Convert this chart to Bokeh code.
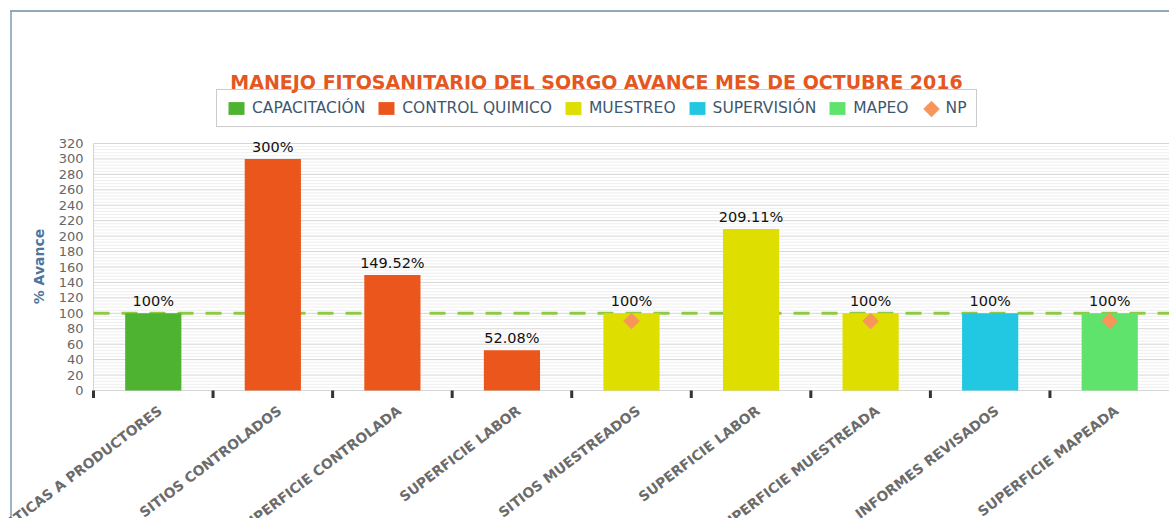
import math
from bokeh.plotting import figure
from bokeh.models import (ColumnDataSource, Range1d, LabelSet, Label, Legend, LegendItem)
from bokeh.core.properties import value
from bokeh.embed import file_html
from bokeh.resources import INLINE

# ---------------- data ----------------
title_text = "MANEJO FITOSANITARIO DEL SORGO AVANCE MES DE OCTUBRE 2016"
categories = ["PLATICAS A PRODUCTORES", "SITIOS CONTROLADOS", "SUPERFICIE CONTROLADA",
              "SUPERFICIE LABOR", "SITIOS MUESTREADOS", "SUPERFICIE LABOR",
              "SUPERFICIE MUESTREADA", "INFORMES REVISADOS", "SUPERFICIE MAPEADA"]
values = [100, 300, 149.52, 52.08, 100, 209.11, 100, 100, 100]
series_of = ["CAPACITACIÓN", "CONTROL QUIMICO", "CONTROL QUIMICO", "CONTROL QUIMICO",
             "MUESTREO", "MUESTREO", "MUESTREO", "SUPERVISIÓN", "MAPEO"]
series_names = ["CAPACITACIÓN", "CONTROL QUIMICO", "MUESTREO", "SUPERVISIÓN", "MAPEO"]
series_colors = ["#4db331", "#ea561b", "#dede00", "#22c8e2", "#5fe36d"]
np_name = "NP"
np_values = [None, None, None, None, 90, None, 90, None, 90]
np_color = "#f7955a"
target = 100
y_max = 320
y_ticks = list(range(0, y_max + 1, 20))
y_minor = [v for v in range(0, y_max + 1, 4) if v % 20]
y_title = "% Avance"

# ---------------- layout (pixels) ----------------
W, H = 1169, 518
FRAME_L, FRAME_R = 93, 1169
PX_0, PX_MAX = 390, 143
n = len(categories)
cw = (FRAME_R - FRAME_L) / n
k = (PX_0 - PX_MAX) / y_max


def X(px):
    return (px - FRAME_L) / cw


def Y(py):
    return (PX_0 - py) / k


FONT = "DejaVu Sans"

p = figure(width=W, height=H, output_backend="svg", toolbar_location=None, tools="",
           title=None, x_range=Range1d(X(0), X(W)), y_range=Range1d(Y(H), Y(0)),
           min_border=0)
p.border_fill_color = None
p.background_fill_color = None
p.outline_line_color = None
p.xaxis.visible = False
p.yaxis.visible = False
p.xgrid.visible = False
p.ygrid.visible = False
p.styles = {
    "background-image": "linear-gradient(#93a7ba,#93a7ba), linear-gradient(#9fb3c6,#9fb3c6)",
    "background-size": "100% 2px, 2px 100%",
    "background-position": "10px 10px, 10px 10px",
    "background-repeat": "no-repeat",
}

# grid lines (drawn within the plot area)
p.segment(x0=[0] * len(y_minor), y0=y_minor, x1=[n] * len(y_minor), y1=y_minor,
          line_color="#efefef", line_width=1)
p.segment(x0=[0] * len(y_ticks), y0=y_ticks, x1=[n] * len(y_ticks), y1=y_ticks,
          line_color="#d6d6d6", line_width=1)
p.segment(x0=[0], y0=[0], x1=[0], y1=[y_max], line_color="#d6d6d6", line_width=1)

# target dashed line
p.segment(x0=[0], y0=[target], x1=[n], y1=[target], line_color="#8fca45",
          line_width=3, line_dash="16 12")

# bars
xs = [i + 0.5 for i in range(n)]
items = []
for name, col in zip(series_names, series_colors):
    idx = [i for i in range(n) if series_of[i] == name]
    src = ColumnDataSource(dict(x=[xs[i] for i in idx], top=[values[i] for i in idx]))
    r = p.vbar(x="x", top="top", width=0.47, source=src, fill_color=col, line_color=None)
    items.append(LegendItem(label=name, renderers=[r]))

# NP markers
np_idx = [i for i in range(n) if np_values[i] is not None]
np_src = ColumnDataSource(dict(x=[xs[i] for i in np_idx], y=[np_values[i] for i in np_idx]))
rnp = p.scatter(x="x", y="y", source=np_src, marker="square", angle=math.pi / 4, size=11,
                fill_color=np_color, line_color=np_color)
items.append(LegendItem(label=np_name, renderers=[rnp]))

# full-size legend key for NP (Bokeh draws marker keys very small)
p.scatter(x=[X(931)], y=[Y(108.5)], marker="square", angle=math.pi / 4, size=11,
          fill_color=np_color, line_color=np_color)

# x axis tick marks at category boundaries
bounds = list(range(n))
p.segment(x0=bounds, y0=[0] * n, x1=bounds, y1=[Y(PX_0 + 7.5)] * n,
          line_color="#333333", line_width=3)

# y tick labels
ytl_src = ColumnDataSource(dict(x=[X(FRAME_L - 10)] * len(y_ticks), y=y_ticks,
                                text=[str(v) for v in y_ticks]))
p.add_layout(LabelSet(x="x", y="y", text="text", source=ytl_src, text_align="right",
                      text_baseline="middle", text_font=value(FONT),
                      text_font_size="13px", text_color="#666666"))

# y axis title
p.add_layout(Label(x=X(38), y=Y(266), text=y_title, angle=math.pi / 2,
                   text_align="center", text_baseline="middle", text_font=FONT,
                   text_font_size="14px", text_font_style="bold", text_color="#4d759e"))

# data labels
lab_src = ColumnDataSource(dict(x=xs, y=values, text=[f"{v:g}%" for v in values]))
p.add_layout(LabelSet(x="x", y="y", text="text", source=lab_src, text_align="center",
                      text_baseline="bottom", y_offset=4, text_font=value(FONT),
                      text_font_size="14.5px", text_color="#111111"))

# category labels
cat_src = ColumnDataSource(dict(x=[X(FRAME_L + cw * (i + 0.5) + 2) for i in range(n)],
                                y=[Y(PX_0 + 12)] * n, text=categories))
p.add_layout(LabelSet(x="x", y="y", text="text", source=cat_src, text_align="right",
                      text_baseline="top", angle=0.65,
                      text_font=value(FONT), text_font_style="bold",
                      text_font_size="13.8px", text_color="#6b6b6b"))

# title
p.add_layout(Label(x=X(596), y=Y(81), text=title_text, text_align="center",
                   text_baseline="middle", text_font=FONT, text_font_size="19px",
                   text_font_style="bold", text_color="#e4571f"))

# legend
legend = Legend(items=items, orientation="horizontal", location=(216, H - 127),
                label_text_font=FONT, label_text_font_size="15.5px",
                label_text_color="#3e576f", glyph_width=20, glyph_height=16,
                label_height=18, label_standoff=6, spacing=11, padding=9, margin=0,
                border_line_color="#999999", border_line_width=1.5,
                background_fill_alpha=0)
p.add_layout(legend)

open("out.html", "w").write(file_html(p, INLINE))
